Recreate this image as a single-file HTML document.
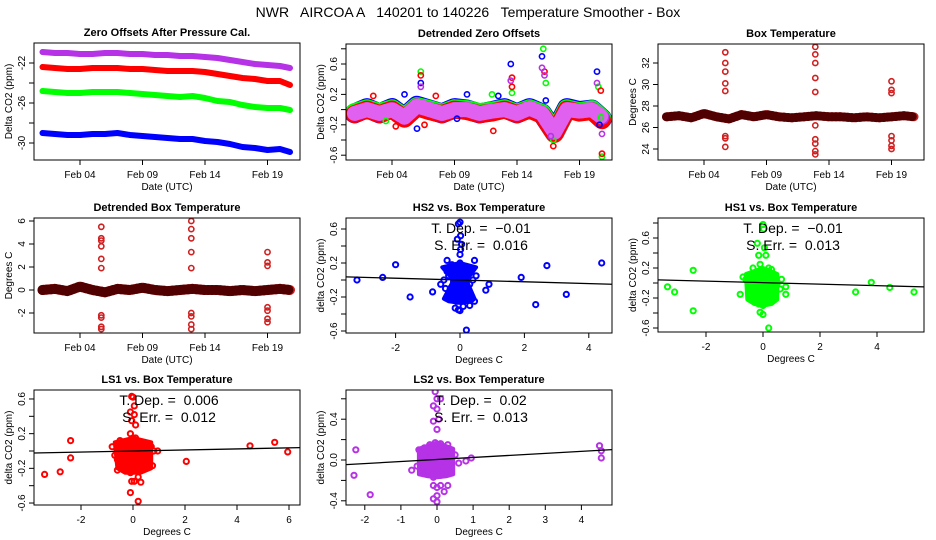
<!DOCTYPE html>
<html><head><meta charset="utf-8"><style>
html,body{margin:0;padding:0;background:#fff;}
svg{display:block;font-family:"Liberation Sans",sans-serif;}
text{white-space:pre;}
</style></head><body>
<svg id="c" width="936" height="540" viewBox="0 0 936 540">
<text x="468" y="17" text-anchor="middle" font-size="14" xml:space="preserve">NWR   AIRCOA A   140201 to 140226   Temperature Smoother - Box</text>
</svg>
<script>
// ---------- data ----------
const dateTickDays = [3, 8, 13, 18];
const dateTickLabels = ["Feb 04", "Feb 09", "Feb 14", "Feb 19"];
const days = [0,1,2,3,4,5,6,7,8,9,10,11,12,13,14,15,16,17,18,19,19.8];

const zeroPurple = [-20.9,-21.0,-21.0,-21.1,-21.1,-21.0,-21.0,-21.1,-21.1,-21.2,-21.2,-21.3,-21.3,-21.4,-21.5,-21.7,-21.9,-22.1,-22.2,-22.3,-22.5];
const zeroRed = [-22.4,-22.5,-22.6,-22.6,-22.5,-22.5,-22.5,-22.6,-22.6,-22.7,-22.8,-22.8,-22.8,-22.9,-23.1,-23.3,-23.5,-23.6,-23.8,-23.8,-24.2];
const zeroGreen = [-24.8,-24.9,-25.0,-25.0,-24.9,-24.9,-24.9,-25.0,-25.1,-25.2,-25.3,-25.4,-25.3,-25.5,-25.8,-25.9,-26.2,-26.4,-26.5,-26.5,-26.7];
const zeroBlue = [-29.0,-29.1,-29.2,-29.2,-29.1,-29.1,-29.0,-29.2,-29.3,-29.4,-29.5,-29.6,-29.6,-29.8,-29.9,-30.1,-30.4,-30.5,-30.7,-30.6,-30.9];

const detBlue = [-0.05,0.02,-0.05,0.02,-0.1,0.05,0.0,-0.05,0.02,0.0,-0.05,-0.02,0.02,-0.05,0.02,-0.05,-0.3,0.02,-0.02,0.0,-0.12];
const detRed = [-0.06,0.0,-0.06,0.0,-0.12,0.03,-0.02,-0.06,0.0,-0.02,-0.06,-0.04,0.0,-0.06,0.0,-0.07,-0.32,0.0,-0.04,-0.02,-0.14];
const detGreen = [-0.04,0.01,-0.04,0.01,-0.1,0.04,0.0,-0.05,0.01,0.0,-0.04,-0.02,0.01,-0.05,0.01,-0.05,-0.31,0.01,-0.03,0.0,-0.12];
const detPurple = [-0.05,0.0,-0.05,0.0,-0.1,0.05,0.0,-0.05,0.0,0.0,-0.05,-0.02,0.0,-0.05,0.02,-0.05,-0.3,0.0,-0.02,0.0,-0.1];
const detOutBlueX = [5.3,12.5,15.0,15.3,19.4,8.2,5.0,19.6,4.0,9.0,11.5];
const detOutBlueY = [0.35,0.6,0.7,0.12,0.5,-0.12,-0.25,-0.2,0.2,0.2,0.18];
const detOutGreenX = [5.3,15.1,15.3,12.6,19.5,19.8,19.7,15.9,11.0,2.5];
const detOutGreenY = [0.5,0.8,0.35,0.22,0.3,-0.62,-0.1,-0.4,0.2,-0.15];
const detOutRedX = [5.3,12.6,12.6,15.2,15.9,19.7,19.8,11.1,5.6,3.3,1.5,6.5];
const detOutRedY = [0.45,0.42,0.3,0.5,-0.48,0.25,-0.58,-0.28,-0.2,-0.22,0.18,0.18];
const detOutPurpleX = [5.3,12.5,15.0,15.2,19.4,19.8,15.7];
const detOutPurpleY = [0.3,0.38,0.55,0.45,0.35,-0.32,-0.35];

const boxTemp = [27.0,27.1,26.9,27.3,27.0,26.8,27.2,27.0,27.2,27.0,26.9,27.0,27.1,27.0,27.0,26.9,27.0,26.9,27.0,27.1,27.0];
const boxSpikeX = [4.7,4.7,4.7,4.7,4.7,4.7,4.7,4.7,11.9,11.9,11.9,11.9,11.9,11.9,11.9,11.9,11.9,11.9,18,18,18,18,18,18,18];
const boxSpikeY = [24.2,25.0,25.2,29.4,30.1,31.2,32.0,33.0,23.5,23.8,24.5,24.9,26.2,29.3,30.6,32.0,32.8,33.5,24.0,24.3,24.8,25.2,29.2,29.5,30.3];

const detBox = [0.0,0.1,-0.1,0.3,0.0,-0.2,0.1,0.0,0.2,0.0,-0.1,0.0,0.1,0.0,0.0,-0.1,0.0,-0.1,0.0,0.1,0.0];
const detBoxSpikeX = [4.7,4.7,4.7,4.7,4.7,4.7,4.7,4.7,4.7,4.7,11.9,11.9,11.9,11.9,11.9,11.9,11.9,11.9,11.9,18,18,18,18,18,18,18];
const detBoxSpikeY = [5.5,4.5,4.3,3.8,2.7,1.9,-2.2,-2.4,-3.2,-3.4,6.0,5.3,4.5,3.3,1.9,-2.0,-2.3,-3.0,-3.4,3.3,2.4,2.1,-1.5,-1.8,-2.5,-2.8];

const hs2X = [-3.2,-2.4,-2.0,-1.55,-0.85,0.2,1.9,2.35,2.7,3.3,4.4,0.9,0.8,0,-0.05,0.02,-0.08,0.05,0.02,0,-0.05,0,0.1,0.3,0.45,0.45,-0.4,-0.15,-0.5,-0.4,-0.3,-0.2,-0.1,0,0.1,0.2,0.3,0.4,-0.45,-0.35,-0.25,-0.15,-0.05,0.05,0.15,0.25,0.35,-0.3,-0.2,-0.1,0,0.1,0.2,-0.2,-0.1,0,0.1,-0.1,0,0.1,-0.6,0.5];
const hs2Y = [0.0,0.03,0.18,-0.2,-0.14,-0.59,0.03,-0.29,0.17,-0.17,0.2,-0.05,-0.12,0.68,0.66,0.52,0.48,0.42,0.36,0.3,-0.35,-0.36,-0.31,-0.3,-0.25,0.23,0.23,-0.33,0.0,0.1,-0.1,0.15,-0.2,0.05,-0.15,0.1,-0.05,0.0,-0.1,0.05,0.18,-0.05,0.12,-0.22,0.02,-0.12,0.12,-0.15,-0.02,0.08,-0.1,0.16,-0.2,0.05,-0.25,0.2,-0.05,-0.12,0.0,0.1,-0.05,0.05];
const hs2Fit = [0.0, -0.0105];
const hs1X = [-3.35,-3.1,-2.45,-2.45,-0.8,0.2,0,0.02,-0.2,0.05,-0.15,0.1,3.25,3.8,4.45,5.3,0.8,0.8,0,-0.1,0.65,-0.6,-0.5,-0.4,-0.3,-0.2,-0.1,0,0.1,0.2,0.3,0.4,0.5,-0.55,-0.45,-0.35,-0.25,-0.15,-0.05,0.05,0.15,0.25,0.35,0.45,-0.3,-0.2,-0.1,0,0.1,0.2,-0.1,0,0.1,-0.7,0.6];
const hs1Y = [-0.05,-0.12,0.17,-0.37,-0.15,-0.6,0.78,0.72,0.53,0.47,0.37,0.37,-0.12,0.01,-0.06,-0.12,-0.05,-0.15,-0.42,-0.39,0.05,0.05,-0.1,0.12,-0.2,0.0,0.15,-0.25,0.08,-0.15,0.18,-0.05,0.0,0.1,-0.05,0.2,-0.1,-0.28,0.1,-0.18,0.12,-0.08,0.05,-0.12,-0.05,0.05,0.25,-0.3,0.02,0.2,-0.15,0.0,-0.2,0.08,-0.08];
const hs1Fit = [0.005, -0.01];
const ls1X = [-3.4,-2.8,-2.4,-2.4,-0.6,0.2,-0.1,-0.05,0,0.05,-0.1,0.05,-0.05,0.1,-0.1,-0.05,0.05,0.3,0.2,2.05,4.5,5.45,5.95,0.95,0.75,-0.8,-0.6,-0.4,-0.2,0,0.2,0.4,0.6,0.8,-0.7,-0.5,-0.3,-0.1,0.1,0.3,0.5,0.7,-0.5,-0.3,-0.1,0.1,0.3,0.5,-0.2,0,0.2,-0.1,0.1];
const ls1Y = [-0.27,-0.24,0.12,-0.08,-0.22,-0.58,-0.48,0.63,0.62,0.52,0.45,0.42,0.35,0.3,0.2,-0.35,-0.35,-0.36,-0.3,-0.12,0.06,0.1,-0.01,0.0,-0.17,0.05,-0.1,0.1,-0.2,0.15,-0.05,0.08,-0.12,0.0,-0.05,0.12,-0.15,0.05,-0.22,0.1,-0.08,0.05,0.0,0.05,-0.1,0.12,-0.15,0.02,0.1,-0.05,0.0,-0.25,0.15];
const ls1Fit = [0.0, 0.006];
const ls2X = [-2.25,-2.3,-1.85,-0.05,0,0.1,-0.1,0,-0.1,0.05,0,-0.1,0,0.1,0.3,0.2,0,-0.1,0,4.5,4.55,4.55,0.95,0.8,-0.7,-0.55,-0.5,-0.4,-0.3,-0.2,-0.1,0,0.1,0.2,0.3,0.4,0.5,-0.45,-0.35,-0.25,-0.15,-0.05,0.05,0.15,0.25,0.35,-0.3,-0.2,-0.1,0,0.1,0.2,-0.1,0,0.1,0.6];
const ls2Y = [0.1,-0.15,-0.34,0.67,0.6,0.6,0.53,0.5,0.38,0.4,0.3,-0.25,-0.27,-0.25,-0.25,-0.31,-0.35,-0.38,-0.41,0.14,0.09,0.02,0.02,-0.01,-0.1,-0.06,0.1,-0.12,0.05,0.15,-0.15,0.0,0.12,-0.08,0.15,-0.02,0.05,0.0,0.12,-0.1,0.05,0.17,-0.05,0.1,-0.12,0.08,-0.05,0.02,-0.17,0.1,-0.15,0.02,0.06,-0.08,0.16,-0.03];
const ls2Fit = [0.005, 0.02];

const hs2CoreX = [-0.5,0.45,-0.55,0.5,-0.35,0.35,0,0,-0.2,0.2];
const hs2CoreY = [-0.22,-0.22,0.15,0.15,-0.25,-0.25,0.2,-0.27,0.0,0.0];
const hs1CoreX = [-0.55,0.5,-0.6,0.5,-0.3,0.3,0,0];
const hs1CoreY = [-0.22,-0.22,0.12,0.12,-0.28,-0.28,0.2,-0.3];
const ls1CoreX = [-0.6,0.7,-0.7,0.7,-0.3,0.3,0,0];
const ls1CoreY = [-0.2,-0.2,0.1,0.1,-0.25,-0.25,0.15,-0.25];
const ls2CoreX = [-0.5,0.45,-0.5,0.45,-0.25,0.25,0,0];
const ls2CoreY = [-0.14,-0.14,0.11,0.11,-0.16,-0.16,0.17,-0.17];

// ---------- drawing ----------
const svg = document.getElementById('c');
const NS = 'http://www.w3.org/2000/svg';
function el(tag, parent) { const e = document.createElementNS(NS, tag); parent.appendChild(e); return e; }

function frame(P) {
  const g = el('g', svg);
  
  
  const cp = el('clipPath', g);
  cp.setAttribute('id', 'clip-' + P.name);
  const cr = el('rect', cp);
  cr.setAttribute('x', P.x0); cr.setAttribute('y', P.y0); cr.setAttribute('width', P.x1 - P.x0); cr.setAttribute('height', P.y1 - P.y0);
  const pg = el('g', g);
  pg.setAttribute('clip-path', 'url(#clip-' + P.name + ')');
  
  
  P.g = pg;
  const r = el('rect', g);
  
  
  r.setAttribute('x', P.x0); r.setAttribute('y', P.y0);
  r.setAttribute('width', P.x1 - P.x0); r.setAttribute('height', P.y1 - P.y0);
  r.setAttribute('fill', 'none'); r.setAttribute('stroke', '#000'); r.setAttribute('stroke-width', '1');
  const t = el('text', g);
  
  
  t.setAttribute('x', (P.x0 + P.x1) / 2); t.setAttribute('y', P.y0 - 7);
  t.setAttribute('text-anchor', 'middle'); t.setAttribute('font-size', '11'); t.setAttribute('font-weight', 'bold');
  t.textContent = P.title;
  P.xt.forEach((v, i) => {
    const x = P.sx(v);
    const l = el('line', g);
    
    
    l.setAttribute('x1', x); l.setAttribute('x2', x); l.setAttribute('y1', P.y1); l.setAttribute('y2', P.y1 + 5);
    l.setAttribute('stroke', '#000');
    if (P.xl[i] !== '') {
      const tx = el('text', g);
      
      
      tx.setAttribute('x', x); tx.setAttribute('y', P.y1 + 18);
      tx.setAttribute('text-anchor', 'middle'); tx.setAttribute('font-size', '10');
      tx.textContent = P.xl[i];
    }
  });
  const xa = el('text', g);
  
  
  xa.setAttribute('x', (P.x0 + P.x1) / 2); xa.setAttribute('y', P.y1 + 30);
  xa.setAttribute('text-anchor', 'middle'); xa.setAttribute('font-size', '10');
  xa.textContent = P.xtitle;
  P.yt.forEach((v, i) => {
    const y = P.sy(v);
    const l = el('line', g);
    
    
    l.setAttribute('x1', P.x0 - 5); l.setAttribute('x2', P.x0); l.setAttribute('y1', y); l.setAttribute('y2', y);
    l.setAttribute('stroke', '#000');
    if (P.yl[i] !== '') {
      const tx = el('text', g);
      
      
      tx.setAttribute('transform', 'translate(' + (P.x0 - 9) + ',' + y + ') rotate(-90)');
      tx.setAttribute('text-anchor', 'middle'); tx.setAttribute('font-size', '10');
      tx.textContent = P.yl[i];
    }
  });
  const ya = el('text', g);
  
  
  ya.setAttribute('transform', 'translate(' + (P.x0 - 22) + ',' + ((P.y0 + P.y1) / 2) + ') rotate(-90)');
  ya.setAttribute('text-anchor', 'middle'); ya.setAttribute('font-size', '10');
  ya.textContent = P.ytitle;
  return P;
}

function band(P, xs, ys, color, w, name, dash) {
  const pts = xs.map((x, i) => P.sx(x).toFixed(1) + ',' + P.sy(ys[i]).toFixed(1)).join(' ');
  const pl = el('polyline', P.g);
  
  
  pl.setAttribute('points', pts);
  pl.setAttribute('fill', 'none'); pl.setAttribute('stroke', color);
  pl.setAttribute('stroke-width', w); pl.setAttribute('stroke-linejoin', 'round'); pl.setAttribute('stroke-linecap', 'round');
  if (dash) pl.setAttribute('stroke-dasharray', dash);
}
function points(P, xs, ys, color, name, r, sw) {
  xs.forEach((x, i) => {
    const c = el('circle', P.g);
    
    
    c.setAttribute('cx', P.sx(x).toFixed(1)); c.setAttribute('cy', P.sy(ys[i]).toFixed(1));
    c.setAttribute('r', r || 2.6); c.setAttribute('fill', 'none'); c.setAttribute('stroke', color); c.setAttribute('stroke-width', sw || '1.6');
  });
}
function core(P, xs, ys, color) {
  const pts = xs.map((x, i) => [P.sx(x), P.sy(ys[i])]);
  const cx = pts.reduce((s, p) => s + p[0], 0) / pts.length, cy = pts.reduce((s, p) => s + p[1], 0) / pts.length;
  pts.sort((a, b) => Math.atan2(a[1] - cy, a[0] - cx) - Math.atan2(b[1] - cy, b[0] - cx));
  const pg = el('polygon', P.g);
  
  
  pg.setAttribute('points', pts.map(p => p[0].toFixed(1) + ',' + p[1].toFixed(1)).join(' '));
  pg.setAttribute('fill', color); pg.setAttribute('stroke', color); pg.setAttribute('stroke-width', '4'); pg.setAttribute('stroke-linejoin', 'round');
}
function fitLine(P, fit, xa, xb) {
  const l = el('line', P.g);
  
  
  l.setAttribute('x1', P.sx(xa)); l.setAttribute('y1', P.sy(fit[0] + fit[1] * xa));
  l.setAttribute('x2', P.sx(xb)); l.setAttribute('y2', P.sy(fit[0] + fit[1] * xb));
  l.setAttribute('stroke', '#000'); l.setAttribute('stroke-width', '1.3');
}
function stats(P, t1, t2) {
  const cx = (P.x0 + P.x1) / 2 + 2;
  [t1, t2].forEach((s, i) => {
    const t = el('text', svg);
    
    
    t.setAttribute('x', cx); t.setAttribute('y', P.y0 + 15 + i * 17);
    t.setAttribute('text-anchor', 'middle'); t.setAttribute('font-size', '14');
    t.textContent = s;
  });
}

const PURPLE = '#b532e6', RED = '#ff0000', GREEN = '#00ff00', BLUE = '#0000ff', BOX = '#d02020';

const p1 = frame({name:'zero-offsets-panel', title:'Zero Offsets After Pressure Cal.', x0:34,y0:43,x1:300,y1:160,
  sx:d=>42.5+12.5*d, sy:v=>63+(-22-v)*10, xt:dateTickDays, xl:dateTickLabels, xtitle:'Date (UTC)',
  yt:[-22,-24,-26,-28,-30], yl:['-22','','-26','','-30'], ytitle:'Delta CO2 (ppm)'});
band(p1, days, zeroPurple, PURPLE, 6, 'series-purple');
band(p1, days, zeroRed, RED, 6, 'series-red');
band(p1, days, zeroGreen, GREEN, 6, 'series-green');
band(p1, days, zeroBlue, BLUE, 6, 'series-blue');

const p2 = frame({name:'detrended-zero-panel', title:'Detrended Zero Offsets', x0:346,y0:44,x1:612,y1:160,
  sx:d=>354.5+12.5*d, sy:v=>109.6-76*v, xt:dateTickDays, xl:dateTickLabels, xtitle:'Date (UTC)',
  yt:[0.8,0.6,0.4,0.2,0,-0.2,-0.4,-0.6], yl:['','0.6','','0.2','','-0.2','','-0.6'], ytitle:'Delta CO2 (ppm)'});
band(p2, days, detBlue, BLUE, 20, 'series-blue');
band(p2, days, detGreen, GREEN, 19, 'series-green');
band(p2, days, detRed, RED, 18, 'series-red');
band(p2, days, detPurple, PURPLE, 15, 'series-purple');
band(p2, days, detPurple, '#e060f0', 15, 'series-purple-hatch', '2 2');
points(p2, detOutBlueX, detOutBlueY, BLUE, 'outlier-blue');
points(p2, detOutGreenX, detOutGreenY, GREEN, 'outlier-green');
points(p2, detOutRedX, detOutRedY, RED, 'outlier-red');
points(p2, detOutPurpleX, detOutPurpleY, PURPLE, 'outlier-purple');

const p3 = frame({name:'box-temperature-panel', title:'Box Temperature', x0:658,y0:44,x1:924,y1:160,
  sx:d=>666.5+12.5*d, sy:v=>63+(32-v)*10.75, xt:dateTickDays, xl:dateTickLabels, xtitle:'Date (UTC)',
  yt:[24,26,28,30,32], yl:['24','26','28','30','32'], ytitle:'Degrees C'});
band(p3, days, boxTemp, BOX, 9, 'box-temp-series');
band(p3, days, boxTemp, '#500000', 9, 'box-temp-hatch', '1 3');
points(p3, boxSpikeX, boxSpikeY, BOX, 'box-temp-spike');

const p4 = frame({name:'detrended-box-temp-panel', title:'Detrended Box Temperature', x0:34,y0:218,x1:300,y1:333,
  sx:d=>42.5+12.5*d, sy:v=>290-11.5*v, xt:dateTickDays, xl:dateTickLabels, xtitle:'Date (UTC)',
  yt:[-2,0,2,4,6], yl:['-2','0','2','4','6'], ytitle:'Degrees C'});
band(p4, days, detBox, BOX, 10, 'detrended-box-temp-series');
band(p4, days, detBox, '#500000', 10, 'detrended-box-temp-hatch', '1 3');
points(p4, detBoxSpikeX, detBoxSpikeY, BOX, 'detrended-box-temp-spike');

const p5 = frame({name:'hs2-vs-box-panel', title:'HS2 vs. Box Temperature', x0:346,y0:218,x1:612,y1:333,
  sx:v=>460+32.2*v, sy:v=>280-85*v, xt:[-2,0,2,4], xl:['-2','0','2','4'], xtitle:'Degrees C',
  yt:[0.6,0.4,0.2,0,-0.2,-0.4,-0.6], yl:['0.6','','0.2','','-0.2','','-0.6'], ytitle:'delta CO2 (ppm)'});
core(p5, hs2CoreX, hs2CoreY, BLUE);
points(p5, hs2X, hs2Y, BLUE, 'hs2-point', 2.6, 2);
fitLine(p5, hs2Fit, -4, 5);
stats(p5, 'T. Dep. =  \u22120.01', 'S. Err. =  0.016');

const p6 = frame({name:'hs1-vs-box-panel', title:'HS1 vs. Box Temperature', x0:658,y0:218,x1:924,y1:332,
  sx:v=>763+28.5*v, sy:v=>283-75*v, xt:[-2,0,2,4], xl:['-2','0','2','4'], xtitle:'Degrees C',
  yt:[0.8,0.6,0.4,0.2,0,-0.2,-0.4,-0.6], yl:['','0.6','','0.2','','-0.2','','-0.6'], ytitle:'delta CO2 (ppm)'});
core(p6, hs1CoreX, hs1CoreY, GREEN);
points(p6, hs1X, hs1Y, GREEN, 'hs1-point', 2.6, 2);
fitLine(p6, hs1Fit, -4, 6);
stats(p6, 'T. Dep. =  \u22120.01', 'S. Err. =  0.013');

const p7 = frame({name:'ls1-vs-box-panel', title:'LS1 vs. Box Temperature', x0:34,y0:390,x1:300,y1:505,
  sx:v=>133+26*v, sy:v=>451-86.7*v, xt:[-2,0,2,4,6], xl:['-2','0','2','4','6'], xtitle:'Degrees C',
  yt:[0.6,0.4,0.2,0,-0.2,-0.4,-0.6], yl:['0.6','','0.2','','-0.2','','-0.6'], ytitle:'delta CO2 (ppm)'});
core(p7, ls1CoreX, ls1CoreY, RED);
points(p7, ls1X, ls1Y, RED, 'ls1-point', 2.6, 2);
fitLine(p7, ls1Fit, -4, 7);
stats(p7, 'T. Dep. =  0.006', 'S. Err. =  0.012');

const p8 = frame({name:'ls2-vs-box-panel', title:'LS2 vs. Box Temperature', x0:346,y0:390,x1:612,y1:505,
  sx:v=>437+36.1*v, sy:v=>460-102*v, xt:[-2,-1,0,1,2,3,4], xl:['-2','-1','0','1','2','3','4'], xtitle:'Degrees C',
  yt:[0.6,0.4,0.2,0,-0.2,-0.4], yl:['','0.4','','0.0','','-0.4'], ytitle:'delta CO2 (ppm)'});
core(p8, ls2CoreX, ls2CoreY, PURPLE);
points(p8, ls2X, ls2Y, PURPLE, 'ls2-point', 2.6, 2);
fitLine(p8, ls2Fit, -3, 5);
stats(p8, 'T. Dep. =  0.02', 'S. Err. =  0.013');
</script>
</body></html>
